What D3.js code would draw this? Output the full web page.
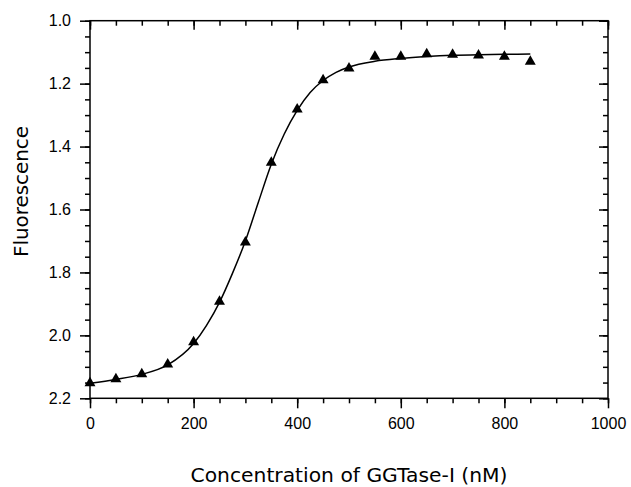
<!DOCTYPE html>
<html lang="en">
<head>
<meta charset="utf-8">
<script src="https://d3js.org/d3.v7.min.js"></script>
<style>
  body { margin: 0; background: #fff; }
  svg { display: block; }
  .tick text { font-family: "Liberation Sans", Arial, sans-serif; font-size: 16px; fill: #000; }
  .title { font-family: "DejaVu Sans", Verdana, sans-serif; font-size: 20px; fill: #000; }
</style>
</head>
<body>
<svg id="chart" width="631" height="487"></svg>
<script>
  // measured points
  var concX = [0, 50, 100, 150, 200, 250, 300, 350, 400, 450, 500, 550, 600, 650, 700, 750, 800, 850];
  var fluorescence = [2.152, 2.139, 2.123, 2.092, 2.021, 1.893, 1.704, 1.451, 1.282, 1.189, 1.151, 1.114, 1.114, 1.106, 1.108, 1.110, 1.114, 1.130];

  // fitted curve
  var fitX = [0, 50, 100, 150, 200, 225, 250, 275, 300, 325, 350, 375, 400, 425, 450, 475, 500, 550, 600, 650, 700, 750, 800, 850];
  var fitY = [2.152, 2.140, 2.124, 2.094, 2.026, 1.968, 1.895, 1.803, 1.700, 1.577, 1.456, 1.360, 1.285, 1.228, 1.190, 1.164, 1.147, 1.129, 1.120, 1.114, 1.110, 1.108, 1.107, 1.106];

  var xMajor = [0, 200, 400, 600, 800, 1000];
  var yMajor = [1.0, 1.2, 1.4, 1.6, 1.8, 2.0, 2.2];

  var margin = { top: 20.7, right: 23, bottom: 88.7, left: 90 },
    width = 631 - margin.left - margin.right,
    height = 487 - margin.top - margin.bottom;

  var svg = d3.select('#chart')
    .append('g')
    .attr('transform', 'translate(' + margin.left + ',' + margin.top + ')');

  var x = d3.scaleLinear().domain([0, 1000]).range([0, width]);
  // fluorescence axis runs downward
  var y = d3.scaleLinear().domain([1.0, 2.2]).range([0, height]);

  var xMinor = d3.range(0, 1001, 50);
  var yMinor = d3.range(0, 25).map(function(i) { return 1.0 + i * 0.05; });

  function styleAxis(g) {
    g.select('.domain').remove();
    g.selectAll('.tick line').attr('stroke', '#000').attr('stroke-width', 1.5);
  }

  // bottom
  svg.append('g').attr('transform', 'translate(0,' + height + ')')
    .call(d3.axisBottom(x).tickValues(xMinor).tickFormat('').tickSize(5)).call(styleAxis);
  svg.append('g').attr('transform', 'translate(0,' + height + ')')
    .call(d3.axisBottom(x).tickValues(xMajor).tickSize(10).tickPadding(9).tickFormat(d3.format('d')))
    .call(styleAxis);

  // left
  svg.append('g')
    .call(d3.axisLeft(y).tickValues(yMinor).tickFormat('').tickSize(5)).call(styleAxis);
  svg.append('g')
    .call(d3.axisLeft(y).tickValues(yMajor).tickSize(10).tickPadding(9).tickFormat(d3.format('.1f')))
    .call(styleAxis);

  // top and right, ticks pointing in
  svg.append('g')
    .call(d3.axisTop(x).tickValues(xMinor).tickFormat('').tickSize(-5)).call(styleAxis);
  svg.append('g')
    .call(d3.axisTop(x).tickValues(xMajor).tickFormat('').tickSize(-9)).call(styleAxis);
  svg.append('g').attr('transform', 'translate(' + width + ',0)')
    .call(d3.axisRight(y).tickValues(yMinor).tickFormat('').tickSize(-5)).call(styleAxis);
  svg.append('g').attr('transform', 'translate(' + width + ',0)')
    .call(d3.axisRight(y).tickValues(yMajor).tickFormat('').tickSize(-9)).call(styleAxis);

  // frame
  svg.append('rect')
    .attr('width', width)
    .attr('height', height)
    .attr('fill', 'none')
    .attr('stroke', '#000')
    .attr('stroke-width', 1.5);

  // fit line
  var line = d3.line()
    .x(function(d, i) { return x(fitX[i]); })
    .y(function(d) { return y(d); })
    .curve(d3.curveMonotoneX);

  svg.append('path')
    .datum(fitY)
    .attr('d', line)
    .attr('fill', 'none')
    .attr('stroke', '#000')
    .attr('stroke-width', 1.5);

  // triangles
  svg.selectAll('.pt')
    .data(fluorescence)
    .enter()
    .append('path')
    .attr('class', 'pt')
    .attr('transform', function(d, i) { return 'translate(' + x(concX[i]) + ',' + y(d) + ')'; })
    .attr('d', d3.symbol().type(d3.symbolTriangle).size(52))
    .attr('fill', '#000');

  // axis titles
  d3.select('#chart').append('text')
    .attr('class', 'title')
    .attr('x', margin.left + width / 2)
    .attr('y', 482)
    .attr('text-anchor', 'middle')
    .attr('textLength', 317)
    .attr('lengthAdjust', 'spacingAndGlyphs')
    .text('Concentration of GGTase-I (nM)');

  d3.select('#chart').append('text')
    .attr('class', 'title')
    .attr('transform', 'translate(28,191.5) rotate(-90)')
    .attr('text-anchor', 'middle')
    .attr('textLength', 131)
    .attr('lengthAdjust', 'spacingAndGlyphs')
    .text('Fluorescence');
</script>
</body>
</html>
